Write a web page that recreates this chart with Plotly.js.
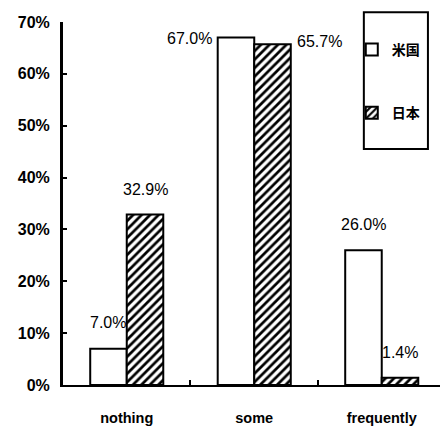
<!DOCTYPE html>
<html>
<head>
<meta charset="utf-8">
<script src="https://cdn.plot.ly/plotly-3.0.1.min.js"></script>
<style>
  html, body { margin: 0; padding: 0; background: #fff; }
  #chart { width: 440px; height: 430px; }
</style>
</head>
<body>
<div id="chart"></div>
<script>
// Share of respondents by frequency, US vs Japan (percent)
const categories = ['nothing', 'some', 'frequently'];
const usValues = [7.0, 67.0, 26.0];
const jpValues = [32.9, 65.7, 1.4];
const seriesNames = ['米国', '日本'];
const yTickValues = [0, 10, 20, 30, 40, 50, 60, 70];
const yTickLabels = ['0%', '10%', '20%', '30%', '40%', '50%', '60%', '70%'];

const tickFamily = '"Liberation Sans", Arial, sans-serif';
const labelFont = '"Liberation Sans", Arial, sans-serif';
const cjk = '"Noto Sans CJK JP", sans-serif';

const outline = { color: '#000', width: 2 };

const usTrace = {
  type: 'bar', name: seriesNames[0], x: categories, y: usValues,
  legendgroup: 'us',
  marker: { color: '#fff', line: outline },
  hoverinfo: 'skip'
};
const jpTrace = {
  type: 'bar', name: seriesNames[1], x: categories, y: jpValues,
  legendgroup: 'jp',
  marker: {
    color: '#fff', line: outline,
    pattern: { shape: '/', fgcolor: '#000', bgcolor: '#fff', size: 6, solidity: 0.45 }
  },
  hoverinfo: 'skip'
};

// half the width of one bar in pixels, used to offset value labels
const half = 18.3;
const fmt = v => v.toFixed(1) + '%';

// a value label placed relative to the top of its bar
function label(cat, val, side) {
  const base = { x: cat, y: val, xref: 'x', yref: 'y', text: fmt(val), showarrow: false,
    font: { family: labelFont, size: 16, color: '#000' } };
  return Object.assign(base, side);
}
const annotations = [];
categories.forEach((c, i) => {
  if (c === 'some') {
    // tall pair: labels sit beside the bar tops
    annotations.push(label(c, usValues[i], { xanchor: 'right', yanchor: 'middle', xshift: -2 * half - 4, yshift: -1 }));
    annotations.push(label(c, jpValues[i], { xanchor: 'left', yanchor: 'middle', xshift: 2 * half + 4, yshift: 3 }));
  } else {
    annotations.push(label(c, usValues[i], { xanchor: 'center', yanchor: 'middle', xshift: -half, yshift: 26 }));
    annotations.push(label(c, jpValues[i], { xanchor: 'center', yanchor: 'middle', xshift: half, yshift: 25 }));
  }
});

const layout = {
  width: 440, height: 430,
  margin: { l: 63, r: 0, t: 22, b: 45, pad: 0 },
  paper_bgcolor: '#fff', plot_bgcolor: '#fff',
  barmode: 'group', bargap: 0.427, bargroupgap: 0,
  showlegend: true,
  legend: {
    x: 0.766, y: 0.967, xanchor: 'left', yanchor: 'top',
    bgcolor: 'rgba(0,0,0,0)', borderwidth: 0,
    traceorder: 'grouped', tracegroupgap: 42,
    font: { family: cjk, size: 14, color: '#000', weight: 'bold' }
  },
  // frame around the legend entries
  shapes: [{
    type: 'rect', xref: 'paper', yref: 'paper',
    x0: 0.798, x1: 0.968, y0: 0.65, y1: 1.027,
    line: { color: '#000', width: 2 }, fillcolor: '#fff', layer: 'below'
  }],
  xaxis: {
    type: 'category', range: [-0.5, 2.457], fixedrange: true,
    showline: true, linecolor: '#000', linewidth: 2,
    tickson: 'boundaries', ticks: 'inside', ticklen: 5, tickwidth: 2, tickcolor: '#000',
    ticklabelstandoff: 19,
    tickfont: { family: tickFamily, size: 14.5, color: '#000', weight: 'bold' },
    showgrid: false, zeroline: false
  },
  yaxis: {
    range: [0, 70], fixedrange: true,
    tickvals: yTickValues, ticktext: yTickLabels,
    showline: true, linecolor: '#000', linewidth: 3,
    ticks: 'inside', ticklen: 4, tickwidth: 2, tickcolor: '#000',
    ticklabelstandoff: 7,
    tickfont: { family: tickFamily, size: 16, color: '#000', weight: 'bold' },
    showgrid: false, zeroline: false
  },
  annotations: annotations
};

Plotly.newPlot('chart', [usTrace, jpTrace], layout, { displayModeBar: false, staticPlot: true });
</script>
</body>
</html>
